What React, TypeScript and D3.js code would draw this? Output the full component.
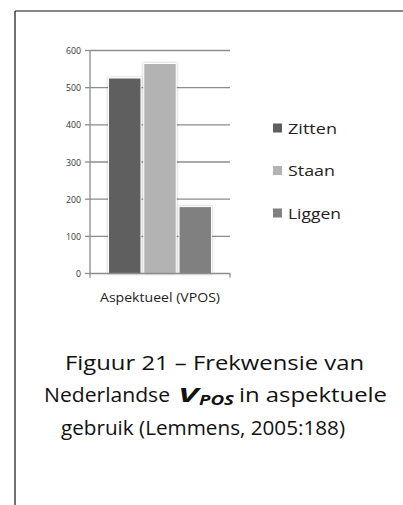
import React from "react";
import * as d3 from "d3";

const categories = ["Aspektueel (VPOS)"];
const seriesNames = ["Zitten", "Staan", "Liggen"];
const seriesValues = [526, 565, 180];
const seriesColors = ["#5f5f5f", "#b3b3b3", "#808080"];
const yTicks = [0, 100, 200, 300, 400, 500, 600];
const captionLines = ["Figuur 21 – Frekwensie van", "Nederlandse", "gebruik (Lemmens, 2005:188)"];

const W = 403;
const H = 505;
const FONT = "'Open Sans', 'Noto Sans', sans-serif";

export default function App() {
  const plotLeft = 90;
  const plotRight = 230;
  const plotTop = 50.5;
  const plotBottom = 273.5;

  const y = d3.scaleLinear().domain([0, 600]).range([plotBottom, plotTop]);
  const x0 = d3.scaleBand().domain(categories).range([plotLeft, plotRight]).paddingInner(0).paddingOuter(0.18);
  const x1 = d3.scaleBand().domain(seriesNames).range([0, x0.bandwidth()]).paddingInner(0.08);

  const legendWidths = [49, 47, 53];

  return (
    <svg
      width={W}
      height={H}
      style={{ position: "absolute", left: 0, top: 0 }}
      xmlns="http://www.w3.org/2000/svg"
    >
      <defs>
        <filter id="sh" x="-30%" y="-10%" width="160%" height="120%">
          <feDropShadow dx="0" dy="0" stdDeviation="1.6" floodColor="#000" floodOpacity="0.25" />
        </filter>
      </defs>
      <rect width={W} height={H} fill="#fff" />
      {/* frame */}
      <line x1={15} y1={11} x2={W} y2={11} stroke="#111" strokeWidth={1.2} />
      <line x1={15} y1={11} x2={15} y2={H} stroke="#111" strokeWidth={1.2} />

      {/* gridlines and y ticks */}
      {yTicks.map((t) => (
        <g key={t}>
          {t > 0 && (
            <line x1={plotLeft} x2={plotRight} y1={y(t)} y2={y(t)} stroke="#8c8c8c" strokeWidth={1.3} />
          )}
          <line x1={plotLeft - 5} x2={plotLeft} y1={y(t)} y2={y(t)} stroke="#8c8c8c" strokeWidth={1.3} />
          <text
            x={plotLeft - 9}
            y={y(t)}
            textAnchor="end"
            dominantBaseline="central"
            fontFamily={FONT}
            fontSize={8.2}
            fill="#333"
            textLength={String(t).length * 5}
            lengthAdjust="spacingAndGlyphs"
          >
            {t}
          </text>
        </g>
      ))}
      {/* y axis */}
      <line x1={plotLeft} x2={plotLeft} y1={plotTop} y2={plotBottom} stroke="#8c8c8c" strokeWidth={1.3} />

      {/* bars */}
      {categories.map((c) => (
        <g key={c} transform={`translate(${x0(c)},0)`}>
          {seriesNames.map((s, i) => (
            <rect
              key={s}
              x={x1(s)}
              y={y(seriesValues[i])}
              width={x1.bandwidth()}
              height={plotBottom - y(seriesValues[i])}
              fill={seriesColors[i]}
              stroke="#fff"
              strokeWidth={1}
              filter="url(#sh)"
            />
          ))}
        </g>
      ))}

      {/* x axis */}
      <line x1={plotLeft} x2={plotRight} y1={plotBottom} y2={plotBottom} stroke="#8c8c8c" strokeWidth={1.3} />
      <line x1={plotLeft} x2={plotLeft} y1={plotBottom} y2={plotBottom + 4} stroke="#8c8c8c" strokeWidth={1.3} />
      <line x1={plotRight} x2={plotRight} y1={plotBottom} y2={plotBottom + 4} stroke="#8c8c8c" strokeWidth={1.3} />
      {categories.map((c) => (
        <text
          key={c}
          x={(x0(c) as number) + x0.bandwidth() / 2}
          y={297}
          textAnchor="middle"
          dominantBaseline="central"
          fontFamily={FONT}
          fontSize={13.5}
          fill="#222"
          textLength={120}
          lengthAdjust="spacingAndGlyphs"
        >
          {c}
        </text>
      ))}

      {/* legend */}
      {seriesNames.map((s, i) => {
        const cy = 128 + i * 42.5;
        return (
          <g key={s}>
            <rect x={273} y={cy - 4.5} width={9} height={9} fill={seriesColors[i]} />
            <text
              x={288}
              y={cy}
              dominantBaseline="central"
              fontFamily={FONT}
              fontSize={14}
              fill="#222"
              textLength={legendWidths[i]}
              lengthAdjust="spacingAndGlyphs"
            >
              {s}
            </text>
          </g>
        );
      })}

      {/* caption */}
      <g fontFamily={FONT} fontSize={20} fill="#111">
        <text x={65} y={362} dominantBaseline="central" textLength={299} lengthAdjust="spacingAndGlyphs">
          {captionLines[0]}
        </text>
        <text x={44} y={394} dominantBaseline="central" textLength={126} lengthAdjust="spacingAndGlyphs">
          {captionLines[1]}
        </text>
        <text x={178} y={394} dominantBaseline="central" fontWeight="bold" fontStyle="italic" fontSize={20} textLength={20} lengthAdjust="spacingAndGlyphs">
          V
        </text>
        <text x={199} y={399} dominantBaseline="central" fontWeight="bold" fontStyle="italic" fontSize={14} textLength={35} lengthAdjust="spacingAndGlyphs">
          POS
        </text>
        <text x={239} y={394} dominantBaseline="central" textLength={148} lengthAdjust="spacingAndGlyphs">
          in aspektuele
        </text>
        <text x={61} y={427} dominantBaseline="central" textLength={284} lengthAdjust="spacingAndGlyphs">
          {captionLines[2]}
        </text>
      </g>
    </svg>
  );
}
